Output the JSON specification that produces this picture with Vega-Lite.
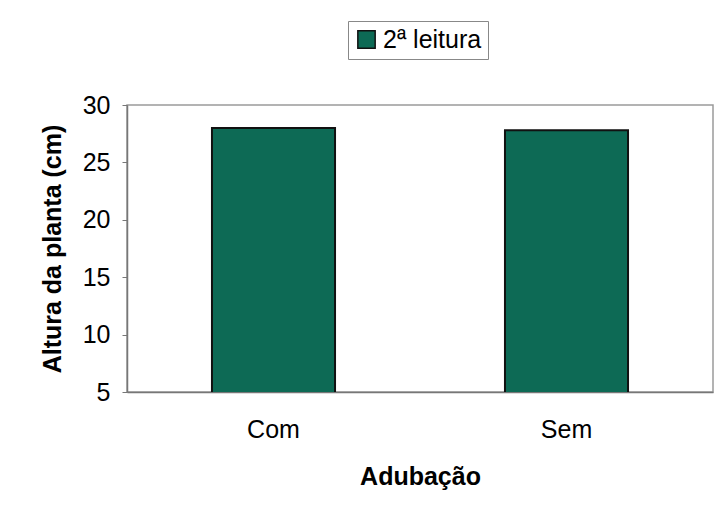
{
  "$schema": "https://vega.github.io/schema/vega-lite/v6.json",
  "width": 586,
  "height": 287,
  "autosize": "none",
  "padding": {"left": 127, "top": 105, "right": 9, "bottom": 121},
  "background": "white",
  "config": {
    "font": "Liberation Sans",
    "view": {"stroke": "#9a9a9a", "strokeWidth": 1.5}
  },
  "data": {
    "values": [
      {"Adubacao": "Com", "altura": 28.0, "serie": "2ª leitura"},
      {"Adubacao": "Sem", "altura": 27.8, "serie": "2ª leitura"}
    ]
  },
  "mark": {"type": "bar", "stroke": "#111111", "strokeWidth": 2, "clip": true},
  "encoding": {
    "x": {
      "field": "Adubacao",
      "type": "nominal",
      "sort": null,
      "scale": {"paddingInner": 0.58, "paddingOuter": 0.29},
      "axis": {
        "title": "Adubação",
        "titleFont": "Liberation Sans",
        "titleFontSize": 25,
        "titleFontWeight": "bold",
        "titleColor": "#000",
        "titlePadding": 22,
        "labelFontSize": 25,
        "labelFontWeight": "normal",
        "labelColor": "#000",
        "labelPadding": 25,
        "labelAngle": 0,
        "ticks": false,
        "domainColor": "#777",
        "domainWidth": 1.5
      }
    },
    "y": {
      "field": "altura",
      "type": "quantitative",
      "scale": {"domain": [5, 30], "zero": false, "nice": false},
      "axis": {
        "title": "Altura da planta (cm)",
        "titleFontSize": 25,
        "titleFontWeight": "bold",
        "titleColor": "#000",
        "titlePadding": 17,
        "values": [5, 10, 15, 20, 25, 30],
        "labelFontSize": 25,
        "labelColor": "#000",
        "labelPadding": 12,
        "tickSize": 5,
        "tickColor": "#777",
        "grid": false,
        "domainColor": "#777",
        "domainWidth": 1.5
      }
    },
    "color": {
      "field": "serie",
      "type": "nominal",
      "scale": {"range": ["#0d6a55"]},
      "legend": {
        "title": null,
        "orient": "none",
        "legendX": 221,
        "legendY": -84,
        "labelFontSize": 25,
        "labelColor": "#000",
        "symbolType": "square",
        "symbolSize": 300,
        "symbolStrokeColor": "#111",
        "symbolStrokeWidth": 1.5,
        "strokeColor": "#888",
        "padding": 6,
        "fillColor": "white"
      }
    }
  }
}
